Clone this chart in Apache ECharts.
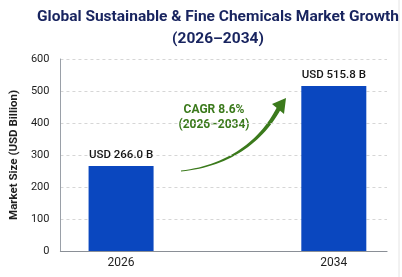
<!DOCTYPE html>
<html lang="en">
<head>
    <meta charset="UTF-8">
    <title>Global Sustainable &amp; Fine Chemicals Market Growth</title>
    <script src="https://cdn.jsdelivr.net/npm/echarts@6/dist/echarts.min.js"></script>
    <style>
        html, body { margin: 0; padding: 0; background: #fff; }
        #chart { width: 402px; height: 277px; }
    </style>
</head>
<body>
<div id="chart"></div>
<script>
    // data
    let years = ['2026', '2034'];
    let market = [266.0, 515.8];
    let yTicks = [0, 100, 200, 300, 400, 500, 600];
    let titleLines = ['Global Sustainable & Fine Chemicals Market Growth', '(2026\u20132034)'];
    let cagrText = ['CAGR 8.6%', '(2026\u20132034)'];

    let font = 'Roboto';
    let green = '#3b7a1c';

    let myChart = echarts.init(document.getElementById('chart'));

    // tapered curved arrow (just decoration)
    function arrowShape() {
        let p0 = [181, 171], p1 = [228, 166], p2 = [261, 142], p3 = [279, 108];
        let left = [], right = [];
        let n = 30;
        for (let i = 0; i <= n; i++) {
            let t = i / n, u = 1 - t;
            let x = u*u*u*p0[0] + 3*u*u*t*p1[0] + 3*u*t*t*p2[0] + t*t*t*p3[0];
            let y = u*u*u*p0[1] + 3*u*u*t*p1[1] + 3*u*t*t*p2[1] + t*t*t*p3[1];
            let dx = 3*u*u*(p1[0]-p0[0]) + 6*u*t*(p2[0]-p1[0]) + 3*t*t*(p3[0]-p2[0]);
            let dy = 3*u*u*(p1[1]-p0[1]) + 6*u*t*(p2[1]-p1[1]) + 3*t*t*(p3[1]-p2[1]);
            let len = Math.sqrt(dx*dx + dy*dy);
            let w = 0.4 + 1.8 * t;
            left.push([x - dy/len*w, y + dx/len*w]);
            right.unshift([x + dy/len*w, y - dx/len*w]);
        }
        return left.concat(right);
    }

    let option = {
        animation: false,
        backgroundColor: '#fff',
        title: {
            text: titleLines.join('\n'),
            left: 213,
            textAlign: 'center',
            top: 1,
            textStyle: {
                fontFamily: font,
                fontSize: 15.5,
                fontWeight: 'bold',
                color: '#18245f',
                lineHeight: 22
            }
        },
        grid: {
            left: 51,
            right: 15,
            top: 59,
            bottom: 26
        },
        xAxis: {
            type: 'value',
            min: -0.285,
            max: 1.25,
            splitLine: { show: false },
            axisTick: { show: false },
            axisLine: { show: true, lineStyle: { color: '#8a8f96', width: 1.2 } },
            axisLabel: {
                customValues: [0, 1],
                formatter: function (v) { return years[Math.round(v)]; },
                fontFamily: font,
                fontSize: 12,
                color: '#1e1e1e',
                margin: 6
            }
        },
        yAxis: {
            type: 'value',
            min: yTicks[0],
            max: yTicks[yTicks.length - 1],
            interval: 100,
            name: 'Market Size (USD Billion)',
            nameLocation: 'middle',
            nameGap: 37,
            nameTextStyle: {
                fontFamily: font,
                fontSize: 11.5,
                fontWeight: 'bold',
                color: '#1e1e1e'
            },
            axisLine: { show: true, onZero: false, lineStyle: { color: '#9aa0a8', width: 1 } },
            axisTick: { show: false },
            axisLabel: {
                fontFamily: font,
                fontSize: 11,
                color: '#1e1e1e',
                margin: 11
            },
            splitLine: {
                lineStyle: { color: '#d6d6d6', type: [3, 3], width: 1 }
            }
        },
        series: [{
            type: 'bar',
            data: market.map(function (v, i) { return [i, v]; }),
            barWidth: 65,
            itemStyle: { color: '#0a47bf' },
            label: {
                show: true,
                position: 'top',
                distance: 5,
                formatter: function (p) { return 'USD ' + p.value[1].toFixed(1) + ' B'; },
                fontFamily: font,
                fontSize: 11.5,
                fontWeight: 500,
                color: '#151515'
            }
        }],
        graphic: [
            {
                type: 'rect',
                shape: { x: -10, y: -10, width: 409, height: 297, r: 8 },
                style: { fill: 'none', stroke: '#e4e4e4', lineWidth: 1 },
                silent: true
            },
            {
                type: 'text',
                x: 214,
                y: 117,
                style: {
                    text: cagrText.join('\n'),
                    align: 'center',
                    verticalAlign: 'middle',
                    fontFamily: font,
                    fontSize: 12,
                    fontWeight: 'bold',
                    lineHeight: 15,
                    fill: green
                }
            },
            {
                type: 'polygon',
                shape: { points: arrowShape() },
                style: { fill: green }
            },
            {
                type: 'polygon',
                shape: { points: [[286, 98], [272, 104], [284, 114]] },
                style: { fill: green }
            }
        ]
    };
    myChart.setOption(option);
</script>
</body>
</html>
